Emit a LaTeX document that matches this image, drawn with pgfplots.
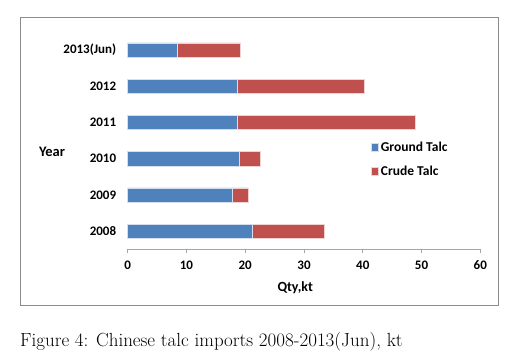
\documentclass[border=0pt]{standalone}
\usepackage{pgfplots}
\pgfplotsset{compat=1.18}
\usepackage{fontspec}
\setsansfont{Carlito}
\definecolor{exblue}{HTML}{4F81BD}
\definecolor{exred}{HTML}{C0504D}
\begin{document}
\begin{tikzpicture}[x=1pt,y=1pt]
\path[use as bounding box] (0,0) rectangle (525,357);
\draw[black!45, line width=0.8pt] (20.7,52) rectangle (498.3,340);
\begin{axis}[
  at={(127.7pt,107.7pt)}, anchor=south west,
  scale only axis, width=352.6pt, height=217.3pt,
  xbar stacked, bar width=14.3pt,
  xmin=0, xmax=60, xtick={0,10,...,60},
  ymin=-0.5, ymax=5.5, ytick={0,1,2,3,4,5},
  yticklabels={2008,2009,2010,2011,2012,2013(Jun)},
  axis x line*=bottom, axis y line*=left,
  x axis line style={draw=black!35, line width=0.8pt},
  y axis line style={draw=none},
  xtick style={draw=black!35, line width=0.8pt},
  ytick style={draw=none},
  tick align=outside, major tick length=4pt,
  /pgf/number format/assume math mode=true,
  tick label style={font=\sffamily\bfseries\fontsize{13}{15}\selectfont},
  xticklabel style={yshift=-4pt},
  yticklabel style={xshift=-4pt},
  xlabel={Qty,kt},
  xlabel style={font=\sffamily\bfseries\fontsize{14}{16}\selectfont, at={(axis description cs:0.475,-0.178)}, anchor=center},
  ylabel={Year},
  ylabel style={font=\sffamily\bfseries\fontsize{14.5}{16}\selectfont, rotate=-90, at={(axis description cs:-0.2147,0.448)}, anchor=center},
  legend style={draw=none, fill=none, at={(axis description cs:0.69,0.505)}, anchor=north west,
    font=\sffamily\bfseries\fontsize{13.5}{15}\selectfont, row sep=9pt, inner sep=0pt},
  legend cell align=left,
  area legend,
  legend image code/.code={\fill[#1] (0pt,-3.5pt) rectangle (7.3pt,3.8pt);},
  clip=false,
]
\addplot[fill=exblue, draw=white!75!exblue, line width=0.4pt] coordinates {(21.2,0) (17.8,1) (19.0,2) (18.6,3) (18.7,4) (8.5,5)};
\addplot[fill=exred, draw=white!75!exred, line width=0.4pt] coordinates {(12.2,0) (2.7,1) (3.6,2) (30.3,3) (21.5,4) (10.7,5)};
\legend{Ground Talc, Crude Talc}
\end{axis}
\node[anchor=base west, inner sep=0pt, font=\rmfamily\fontsize{19}{21}\selectfont] at (20,10.3) {Figure 4: Chinese talc imports 2008-2013(Jun), kt};
\end{tikzpicture}
\end{document}
